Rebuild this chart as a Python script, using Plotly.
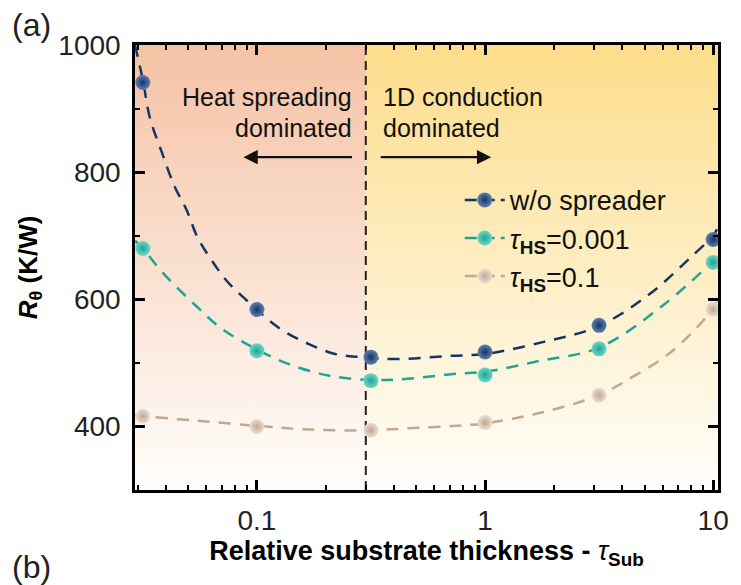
import numpy as np
import plotly.graph_objects as go

# ---------------- data ----------------
tau_sub = [0.0316, 0.1, 0.316, 1.0, 3.16, 10.0]
r_no_spreader = [941, 584, 509, 517, 559, 694]
r_hs_0001 = [680, 519, 472, 481, 522, 658]
r_hs_01 = [416, 400, 394, 406, 449, 584]

# fitted (dashed) curves
fit_x_nav = [0.0292, 0.0316, 0.0339, 0.0383, 0.0436, 0.0491, 0.0548, 0.0631, 0.0741,
             0.0923, 0.127, 0.168, 0.220, 0.287, 0.414, 0.705, 1.0, 1.81, 3.16,
             5.3, 8.3, 10.0, 10.5]
fit_y_nav = [1000, 945, 886, 831, 777, 741, 698, 662, 628,
             595, 553, 530, 514, 509, 506, 511, 514, 533, 558,
             609, 672, 700, 714]

fit_x_teal = [0.0292, 0.0316, 0.0386, 0.0543, 0.0705, 0.1, 0.138, 0.206, 0.316,
              0.458, 0.755, 1.0, 1.73, 3.16, 6.0, 10.0, 10.5]
fit_y_teal = [692, 680, 642, 589, 553, 521, 498, 480, 473,
              475, 483, 486, 503, 524, 590, 663, 678]

fit_x_beige = [0.0292, 0.0316, 0.0543, 0.1, 0.173, 0.316, 0.458, 0.755, 1.0,
               1.73, 3.16, 4.02, 6.64, 10.0, 10.5]
fit_y_beige = [417, 416, 409, 401, 395, 394, 397, 401, 405,
               421, 449, 469, 519, 586, 602]

series_names = ["w/o spreader",
                "<i>τ</i><sub><b>HS</b></sub>=0.001",
                "<i>τ</i><sub><b>HS</b></sub>=0.1"]
x_range = [0.0292, 10.5]
y_range = [300, 1000]
divider = 0.3

# ---------------- styles ----------------
base_colors = ["#163563", "#1EA596", "#C2A88F"]
light_colors = ["#5F7FB0", "#6FD6C6", "#EADFD3"]
FONT = "Arial, Liberation Sans, sans-serif"

fig = go.Figure()

# background gradients
fig.add_trace(go.Scatter(
    x=[x_range[0], divider, divider, x_range[0], x_range[0]],
    y=[y_range[0], y_range[0], y_range[1], y_range[1], y_range[0]],
    mode="lines", fill="toself", line=dict(width=0),
    fillgradient=dict(type="vertical", start=y_range[0], stop=y_range[1],
                      colorscale=[[0, "#FFFEFC"], [1, "#F5C2A4"]]),
    hoverinfo="skip", showlegend=False))
fig.add_trace(go.Scatter(
    x=[divider, x_range[1], x_range[1], divider, divider],
    y=[y_range[0], y_range[0], y_range[1], y_range[1], y_range[0]],
    mode="lines", fill="toself", line=dict(width=0),
    fillgradient=dict(type="vertical", start=y_range[0], stop=y_range[1],
                      colorscale=[[0, "#FFFEFC"], [1, "#FDDD8A"]]),
    hoverinfo="skip", showlegend=False))

# divider line
fig.add_trace(go.Scatter(x=[divider, divider], y=y_range, mode="lines",
                         line=dict(color="#222222", width=2, dash="9px,6px"),
                         hoverinfo="skip", showlegend=False))

fits = [(fit_x_nav, fit_y_nav), (fit_x_teal, fit_y_teal), (fit_x_beige, fit_y_beige)]
pts = [r_no_spreader, r_hs_0001, r_hs_01]

for i in range(3):
    fx, fy = fits[i]
    fig.add_trace(go.Scatter(x=fx, y=fy, mode="lines", line_shape="spline",
                             line=dict(color=base_colors[i], width=2.5, dash="12px,9px"),
                             hoverinfo="skip", showlegend=False, legendgroup=str(i)))
for i in range(3):
    fig.add_trace(go.Scatter(x=tau_sub, y=pts[i], mode="markers",
                             marker=dict(size=15, color=light_colors[i],
                                         gradient=dict(type="radial", color=base_colors[i]),
                                         line=dict(width=0)),
                             showlegend=False, legendgroup=str(i)))
    # legend entry
    fig.add_trace(go.Scatter(x=[None], y=[None], mode="lines+markers", name=series_names[i],
                             line=dict(color=base_colors[i], width=2.5, dash="12px,6px"),
                             marker=dict(size=15, color=light_colors[i],
                                         gradient=dict(type="radial", color=base_colors[i])),
                             legendgroup=str(i)))

# annotations
ann_font = dict(family=FONT, size=25, color="#111111")
annotations = [
    dict(text="Heat spreading", x=0.375, y=0.883, xanchor="right", yanchor="middle"),
    dict(text="dominated", x=0.375, y=0.813, xanchor="right", yanchor="middle"),
    dict(text="1D conduction", x=0.422, y=0.883, xanchor="left", yanchor="middle"),
    dict(text="dominated", x=0.422, y=0.813, xanchor="left", yanchor="middle"),
]
for a in annotations:
    fig.add_annotation(xref="paper", yref="paper", showarrow=False, font=ann_font, **a)

# arrows
fig.add_annotation(xref="paper", yref="paper", x=0.186, y=0.748, ax=110, ay=0,
                   text="", showarrow=True, arrowhead=2, arrowsize=1.3,
                   arrowwidth=2.2, arrowcolor="#111111")
fig.add_annotation(xref="paper", yref="paper", x=0.611, y=0.748, ax=-112, ay=0,
                   text="", showarrow=True, arrowhead=2, arrowsize=1.3,
                   arrowwidth=2.2, arrowcolor="#111111")

# panel labels
fig.add_annotation(xref="paper", yref="paper", x=-0.214, y=1.045, xanchor="left",
                   yanchor="middle", text="(a)", showarrow=False,
                   font=dict(family=FONT, size=32, color="#222222"))
fig.add_annotation(xref="paper", yref="paper", x=-0.214, y=-0.173, xanchor="left",
                   yanchor="middle", text="(b)", showarrow=False,
                   font=dict(family=FONT, size=32, color="#222222"))

axis_common = dict(showline=True, linewidth=2.5, linecolor="black", mirror="ticks",
                   ticks="inside", ticklen=10, tickwidth=2.5, tickcolor="black",
                   showgrid=False, zeroline=False,
                   tickfont=dict(family=FONT, size=28, color="#222222"))

fig.update_xaxes(type="log", range=[np.log10(x_range[0]), np.log10(x_range[1])],
                 dtick=1, ticklabelstandoff=4,
                 minor=dict(ticks="inside", ticklen=5, tickwidth=2, tickcolor="black",
                            dtick="D1", showgrid=False),
                 title=dict(text="<b>Relative substrate thickness - </b><i>τ</i><sub><b>Sub</b></sub>",
                            font=dict(family=FONT, size=27, color="black"), standoff=4),
                 **axis_common)
fig.update_yaxes(range=y_range, tick0=0, dtick=200, ticklabelstandoff=6,
                 minor=dict(ticks="inside", ticklen=5, tickwidth=2, tickcolor="black",
                            dtick=100, showgrid=False),
                 title=dict(text="<b><i>R</i></b><sub><b>θ</b></sub><b> (K/W)</b>",
                            font=dict(family=FONT, size=26, color="black"), standoff=14),
                 **axis_common)

fig.update_layout(
    width=741, height=585,
    margin=dict(l=135, r=14, t=45, b=95),
    paper_bgcolor="white", plot_bgcolor="white",
    font=dict(family=FONT, color="#111111"),
    legend=dict(x=0.557, y=0.706, xanchor="left", yanchor="top",
                bgcolor="rgba(0,0,0,0)", font=dict(family=FONT, size=27, color="#111111"),
                tracegroupgap=0, traceorder="grouped", itemwidth=40),
)

fig.write_html("out.html")
